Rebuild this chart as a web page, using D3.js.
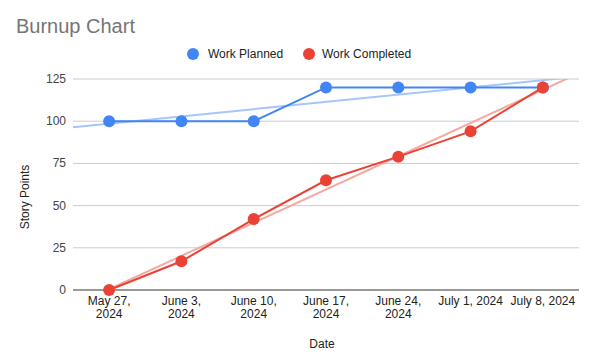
<!DOCTYPE html>
<html><head><meta charset="utf-8">
<script src="https://cdn.jsdelivr.net/npm/d3@7"></script>
<style>body{margin:0;background:#fff}svg{display:block;font-family:Arial,"Liberation Sans",sans-serif}</style>
</head><body><svg id="c" width="593" height="361"></svg>
<script>
const dates = [["May 27,","2024"],["June 3,","2024"],["June 10,","2024"],["June 17,","2024"],["June 24,","2024"],["July 1, 2024"],["July 8, 2024"]];
const planned = [100,100,100,120,120,120,120];
const completed = [0,17,42,65,79,94,120];
const yTicks = [0,25,50,75,100,125];
const seriesNames = ["Work Planned","Work Completed"];
const colors = ["#4285F4","#EA4335"];
const trendColors = ["#A7C5FA","#F5A9A3"];

const svg = d3.select("#c");
const L=73,R=579,T=79,B=290;
const idx = d3.range(dates.length);
const x = d3.scaleLinear().domain([-0.5, dates.length-0.5]).range([L,R]);
const y = d3.scaleLinear().domain([0,125]).range([B,T]);

svg.append("text").attr("x",16).attr("y",33).attr("font-size",20).attr("fill","#757575").text("Burnup Chart");

// legend
const lg = [{cx:193,tx:208},{cx:309,tx:322}];
seriesNames.forEach((n,i)=>{
  svg.append("circle").attr("cx",lg[i].cx).attr("cy",54).attr("r",6).attr("fill",colors[i]);
  svg.append("text").attr("x",lg[i].tx).attr("y",58).attr("font-size",12).attr("fill","#222").text(n);
});

// grid
const g = svg.append("g");
g.selectAll("line.grid").data(yTicks.filter(d=>d>0)).join("line")
 .attr("x1",L).attr("x2",R).attr("y1",d=>y(d)).attr("y2",d=>y(d)).attr("stroke","#ccc").attr("stroke-width",1);
g.selectAll("text.yt").data(yTicks).join("text")
 .attr("x",66).attr("y",d=>y(d)+4).attr("text-anchor","end").attr("font-size",12).attr("fill","#444").text(d=>d);

// x labels
idx.forEach(i=>{
  dates[i].forEach((s,j)=>svg.append("text").attr("text-anchor","middle").attr("font-size",12).attr("fill","#222")
    .attr("x",x(i)).attr("y",305+j*13).text(s));
});
svg.append("text").attr("x",x(3)-4).attr("y",348).attr("text-anchor","middle").attr("font-size",12).attr("fill","#222").text("Date");
svg.append("text").attr("transform","translate(29,197) rotate(-90)").attr("text-anchor","middle").attr("font-size",12).attr("fill","#222").text("Story Points");

// clip
svg.append("defs").append("clipPath").attr("id","clip").append("rect").attr("x",L).attr("y",T).attr("width",R-L).attr("height",B-T+1);

function trend(vals){
  const n=vals.length, mx=d3.mean(idx), my=d3.mean(vals);
  const s=d3.sum(idx,i=>(i-mx)*(vals[i]-my))/d3.sum(idx,i=>(i-mx)**2);
  const b=my-s*mx;
  return [[-0.5,b-0.5*s],[n-0.5,b+(n-0.5)*s]];
}
const line = d3.line().x(d=>x(d[0])).y(d=>y(d[1]));
const all=[planned,completed];
all.forEach((v,i)=>{
  svg.append("path").attr("clip-path","url(#clip)").attr("d",line(trend(v))).attr("fill","none").attr("stroke",trendColors[i]).attr("stroke-width",2);
});
// baseline
svg.append("line").attr("x1",L).attr("x2",R).attr("y1",y(0)).attr("y2",y(0)).attr("stroke","#333").attr("stroke-width",1);

all.forEach((v,i)=>{
  svg.append("path").attr("d",line(v.map((d,k)=>[k,d]))).attr("fill","none").attr("stroke",colors[i]).attr("stroke-width",2);
  svg.selectAll(null).data(v).join("circle").attr("cx",(d,k)=>x(k)).attr("cy",d=>y(d)).attr("r",6).attr("fill",colors[i]);
});
</script></body></html>
